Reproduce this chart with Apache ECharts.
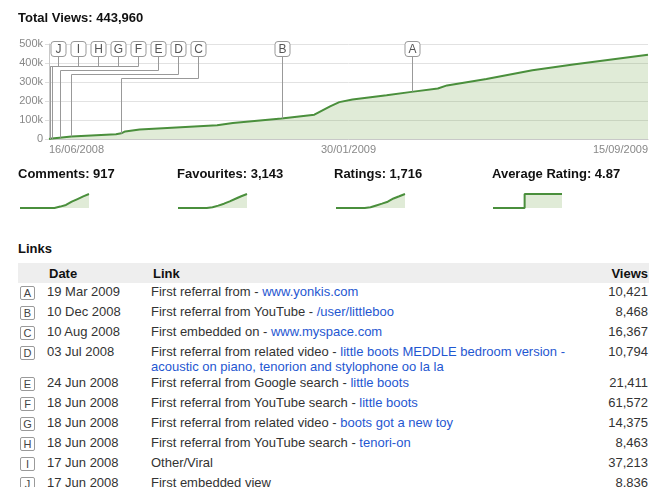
<!DOCTYPE html>
<html>
<head>
<meta charset="utf-8">
<title>Total Views</title>
<style>
  body, html { margin:0; width:657px; height:487px; overflow:hidden; background:#fff;
    font-family: Arial, "Liberation Sans", Helvetica, sans-serif; color:#333; }
  #chart { position:absolute; left:0; top:0; width:657px; height:240px; }
  #linksTitle { position:absolute; left:18px; top:241px; font-size:13px; line-height:16px; font-weight:bold; color:#111; }
  #links { position:absolute; left:18px; top:263px; width:631px; border-collapse:collapse; table-layout:fixed; font-size:13px; }
  #links tr { height:20px; }
  #links td { padding:1px 0 0 0; vertical-align:top; line-height:15px; }
  #links th { padding:0; height:20px; vertical-align:middle; text-align:left; background:#eeeeee; color:#111; font-weight:bold; }
  #links th.pad { padding-left:2px; }
  #links .num { text-align:right; padding-right:1px; }
  #links a { color:#1f57d1; text-decoration:none; }
  .tag { display:block; width:13px; height:12px; margin:2px 0 0 2px; border:1px solid #9a9a9a; border-radius:2px;
    font-size:11px; line-height:12px; text-align:center; color:#444; }
</style>
</head>
<body>
<div id="chart"></div>
<div id="linksTitle">Links</div>
<table id="links">
  <colgroup><col style="width:29px"><col style="width:104px"><col style="width:429px"><col style="width:69px"></colgroup>
  <thead><tr><th></th><th class="pad">Date</th><th class="pad">Link</th><th class="num">Views</th></tr></thead>
  <tbody id="rows"></tbody>
</table>
<script src="https://cdn.jsdelivr.net/npm/echarts/dist/echarts.min.js"></script>
<script type="text/javascript">
    // cumulative views
    var viewDates = ['2008-06-16', '2008-06-17', '2008-06-18', '2008-06-24', '2008-07-03', '2008-08-06',
        '2008-08-10', '2008-08-13', '2008-08-24', '2008-09-14', '2008-10-22', '2008-11-03', '2008-12-10',
        '2009-01-04', '2009-01-16', '2009-01-23', '2009-02-02', '2009-02-28', '2009-03-19', '2009-04-08',
        '2009-04-15', '2009-05-15', '2009-06-19', '2009-07-20', '2009-09-15'];
    var viewValues = [0, 1000, 3000, 7000, 13000, 25000, 30000, 40000, 50000, 58000, 72000, 84000, 108000,
        128000, 172000, 194000, 208000, 230000, 248000, 266000, 282000, 316000, 362000, 392000, 443960];
    var totalViews = '443,960';
    var axisStart = '2008-06-16', axisEnd = '2009-09-15';

    // sparklines
    var statNames = ['Comments', 'Favourites', 'Ratings', 'Average Rating'];
    var statTotals = ['917', '3,143', '1,716', '4.87'];
    var sparkComments = [0, 0, 0, 0, 0, 0, 0, 92, 200, 413, 587, 761, 917];
    var sparkFavourites = [0, 0, 0, 0, 0, 0, 160, 530, 970, 1500, 2070, 2640, 3143];
    var sparkRatings = [0, 0, 0, 0, 0, 0, 86, 309, 532, 772, 1167, 1441, 1716];
    var sparkAvgRating = [0, 0, 0, 0, 0, 0, 4.87, 4.87, 4.87, 4.87, 4.87, 4.87, 4.87];

    // links table + chart markers
    var linkLetters = ['A', 'B', 'C', 'D', 'E', 'F', 'G', 'H', 'I', 'J'];
    var linkDates = ['19 Mar 2009', '10 Dec 2008', '10 Aug 2008', '03 Jul 2008', '24 Jun 2008',
        '18 Jun 2008', '18 Jun 2008', '18 Jun 2008', '17 Jun 2008', '17 Jun 2008'];
    var linkPrefix = ['First referral from - ', 'First referral from YouTube - ', 'First embedded on - ',
        'First referral from related video - ', 'First referral from Google search - ',
        'First referral from YouTube search - ', 'First referral from related video - ',
        'First referral from YouTube search - ', 'Other/Viral', 'First embedded view'];
    var linkTarget = ['www.yonkis.com', '/user/littleboo', 'www.myspace.com',
        'little boots MEDDLE bedroom version - acoustic on piano, tenorion and stylophone oo la la',
        'little boots', 'little boots', 'boots got a new toy', 'tenori-on', '', ''];
    var linkViews = [10421, 8468, 16367, 10794, 21411, 61572, 14375, 8463, 37213, 8836];
    // total views where each marker meets the curve
    var markerValues = [250000, 108000, 29000, 14000, 7000, 3000, 3000, 3000, 1000, 1000];

    var MONTHS = {Jan: 0, Feb: 1, Mar: 2, Apr: 3, May: 4, Jun: 5, Jul: 6, Aug: 7, Sep: 8, Oct: 9, Nov: 10, Dec: 11};
    function parseYmd(s) { var p = s.split('-'); return new Date(+p[0], +p[1] - 1, +p[2]).getTime(); }
    function parseDmy(s) { var p = s.split(' '); return new Date(+p[2], MONTHS[p[1]], +p[0]).getTime(); }
    function pad(n) { return n < 10 ? '0' + n : '' + n; }
    function fmtDate(v) { var d = new Date(v + 43200000); return pad(d.getDate()) + '/' + pad(d.getMonth() + 1) + '/' + d.getFullYear(); }

    // table
    var rowsHtml = '';
    for (var i = 0; i < linkLetters.length; i++) {
        var link = linkPrefix[i] + (linkTarget[i] ? '<a href="#">' + linkTarget[i] + '</a>' : '');
        rowsHtml += '<tr><td><span class="tag">' + linkLetters[i] + '</span></td><td>' + linkDates[i] +
            '</td><td>' + link + '</td><td class="num">' + linkViews[i].toLocaleString('en-US') + '</td></tr>';
    }
    document.getElementById('rows').innerHTML = rowsHtml;

    var xMin = parseYmd(axisStart), xMax = parseYmd(axisEnd);
    var markerTs = linkDates.map(parseDmy);

    function renderMarker(params, api) {
        var idx = params.dataIndex;
        var cs = params.coordSys;
        var pts = markerTs.map(function (t, k) { return api.coord([t, markerValues[k]]); });
        // boxes laid out left to right (J is the leftmost), bent leaders stacked by level
        var boxX = [], level = [], prev = -Infinity, lv = -1, prevPx = null;
        for (var k = pts.length - 1; k >= 0; k--) {
            var b = Math.round(Math.max(pts[k][0], prev + 20, cs.x + 9));
            boxX[k] = b;
            prev = b;
            if (Math.abs(b - pts[k][0]) > 1.5) {
                if (prevPx === null || Math.abs(pts[k][0] - prevPx) > 3) lv++;
                level[k] = lv;
                prevPx = pts[k][0];
            } else {
                level[k] = -1;
            }
        }
        var bx = boxX[idx] + 0.5;
        var px = Math.round(pts[idx][0]) + 0.5, py = pts[idx][1];
        var boxTop = cs.y - 2.5, boxBottom = boxTop + 15;
        var line;
        if (level[idx] < 0) {
            line = [[bx, boxBottom], [bx, py]];
        } else {
            var ly = Math.round(boxBottom + 9 + level[idx] * 4.3) + 0.5;
            line = [[bx, boxBottom], [bx, ly], [px, ly], [px, py]];
        }
        return {
            type: 'group',
            children: [{
                type: 'polyline',
                shape: {points: line},
                style: {stroke: '#999', lineWidth: 1, fill: null}
            }, {
                type: 'rect',
                shape: {x: bx - 7.5, y: boxTop, width: 15, height: 15, r: 3},
                style: {fill: '#fff', stroke: '#999', lineWidth: 1}
            }, {
                type: 'text',
                style: {text: linkLetters[idx], x: bx, y: boxTop + 8, textAlign: 'center', textVerticalAlign: 'middle',
                    align: 'center', verticalAlign: 'middle', fill: '#555', font: '12px Arial, "Liberation Sans", sans-serif'}
            }]
        };
    }

    var lineColor = '#4a8f3c';
    var areaColor = 'rgba(110,160,70,0.31)';
    var sparks = [sparkComments, sparkFavourites, sparkRatings, sparkAvgRating];
    var sparkLeft = [20, 178, 336, 493];
    var statLeft = [18, 177, 334, 492];
    var titleStyle = {fontSize: 13, fontWeight: 'bold', color: '#111', lineHeight: 16};

    var titles = [{text: 'Total Views: ' + totalViews, left: 18, top: 10, padding: 0, textStyle: titleStyle}];
    statNames.forEach(function (n, k) {
        titles.push({text: n + ': ' + statTotals[k], left: statLeft[k], top: 166, padding: 0, textStyle: titleStyle});
    });

    var grids = [{left: 49, top: 44, width: 599, height: 95}];
    var xAxes = [{
        type: 'value', gridIndex: 0, min: xMin, max: xMax,
        axisLine: {lineStyle: {color: '#c8c8c8'}},
        axisTick: {show: false},
        splitLine: {show: false},
        axisLabel: {
            customValues: [xMin, xMin + (xMax - xMin) / 2, xMax],
            formatter: fmtDate, color: '#888', fontSize: 11, margin: 5,
            showMinLabel: true, showMaxLabel: true, alignMinLabel: 'left', alignMaxLabel: 'right'
        }
    }];
    var yAxes = [{
        type: 'value', gridIndex: 0, min: 0, max: 500000, interval: 100000,
        axisLine: {show: true, lineStyle: {color: '#c8c8c8'}},
        axisTick: {show: true, length: 4, lineStyle: {color: '#ddd'}},
        axisLabel: {formatter: function (v) { return v ? v / 1000 + 'k' : '0'; }, color: '#888', fontSize: 11, margin: 6},
        splitLine: {lineStyle: {color: '#e2e2e2'}}
    }];
    var series = [{
        type: 'line', xAxisIndex: 0, yAxisIndex: 0,
        data: viewDates.map(function (d, k) { return [parseYmd(d), viewValues[k]]; }),
        symbol: 'none', lineStyle: {color: lineColor, width: 2},
        areaStyle: {color: areaColor}, z: 2
    }, {
        type: 'custom', xAxisIndex: 0, yAxisIndex: 0, clip: false, z: 5,
        data: markerTs.map(function (t, k) { return [t, markerValues[k]]; }),
        renderItem: renderMarker
    }];

    sparks.forEach(function (s, k) {
        grids.push({left: sparkLeft[k], top: 194, width: 69, height: 14});
        xAxes.push({type: 'category', gridIndex: k + 1, show: false, boundaryGap: false,
            data: s.map(function (v, j) { return j; })});
        yAxes.push({type: 'value', gridIndex: k + 1, show: false, min: 0, max: 'dataMax'});
        series.push({
            type: 'line', xAxisIndex: k + 1, yAxisIndex: k + 1, data: s, symbol: 'none',
            step: k === 3 ? 'middle' : false,
            lineStyle: {color: lineColor, width: 2}, areaStyle: {color: areaColor}
        });
    });

    var myChart = echarts.init(document.getElementById('chart'));
    myChart.setOption({
        animation: false,
        textStyle: {fontFamily: 'Arial, "Liberation Sans", sans-serif'},
        title: titles,
        grid: grids,
        xAxis: xAxes,
        yAxis: yAxes,
        series: series
    });
</script>
</body>
</html>
